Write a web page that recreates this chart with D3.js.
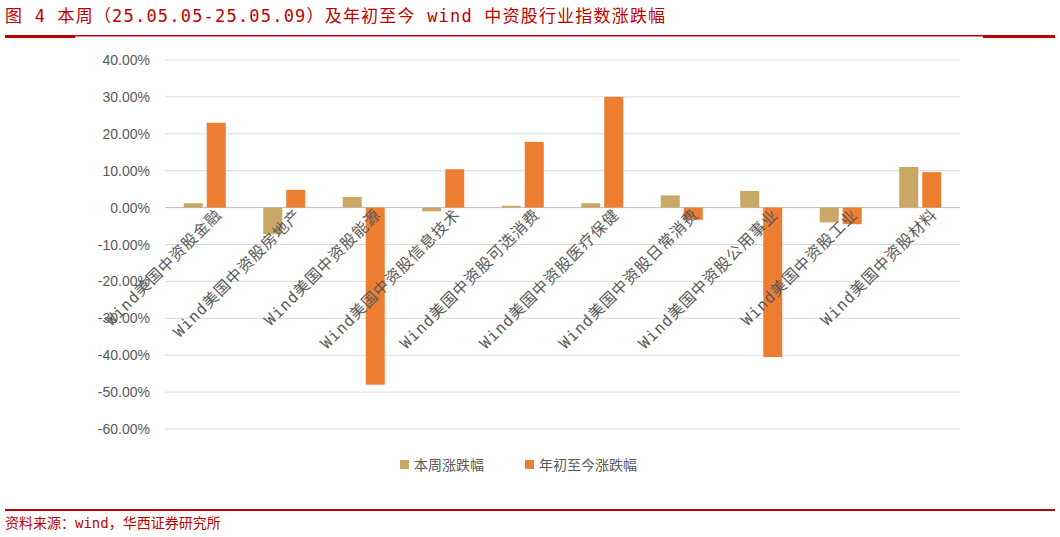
<!DOCTYPE html><html><head><meta charset="utf-8">
<script src="https://cdn.jsdelivr.net/npm/d3@7"></script>
<style>body{margin:0;background:#fff;font-family:"Noto Sans CJK SC",sans-serif}</style></head><body>
<svg id="c" width="1060" height="537"></svg>
<script>
const categories=["Wind美国中资股金融","Wind美国中资股房地产","Wind美国中资股能源","Wind美国中资股信息技术","Wind美国中资股可选消费","Wind美国中资股医疗保健","Wind美国中资股日常消费","Wind美国中资股公用事业","Wind美国中资股工业","Wind美国中资股材料"];
const weekValues=[1.2,-7.2,2.9,-1.0,0.5,1.2,3.3,4.5,-4.0,11.0];
const ytdValues=[23.0,4.8,-48.0,10.4,17.8,30.0,-3.3,-40.5,-4.5,9.6];
const yTicks=[40,30,20,10,0,-10,-20,-30,-40,-50,-60];
const seriesNames=["本周涨跌幅","年初至今涨跌幅"];
const colors=["#C9A765","#ED7D31"];
const svg=d3.select("#c");
const red="#C00000";
const mono='"DejaVu Sans Mono","Noto Sans CJK SC",monospace';
svg.append("text").attr("x",5).attr("y",22).attr("fill",red).attr("font-size",17).attr("font-family",mono).attr("letter-spacing",1.2).text("图 4  本周（25.05.05-25.05.09）及年初至今 wind 中资股行业指数涨跌幅");
svg.append("rect").attr("x",5).attr("y",35).attr("width",1050).attr("height",1.5).attr("fill",red);
svg.append("rect").attr("x",5).attr("y",35).attr("width",70).attr("height",3).attr("fill",red);
svg.append("rect").attr("x",983).attr("y",35).attr("width",72).attr("height",3).attr("fill",red);
svg.append("rect").attr("x",5).attr("y",509).attr("width",1050).attr("height",2).attr("fill",red);
svg.append("text").attr("x",5).attr("y",528).attr("fill",red).attr("font-size",14).attr("font-family",mono).text("资料来源：wind，华西证券研究所");
const y=d3.scaleLinear().domain([-60,40]).range([429,60]);
const x=d3.scaleBand().domain(categories).range([165,960]);
const g=svg.append("g");
yTicks.forEach(t=>{g.append("line").attr("x1",165).attr("x2",960).attr("y1",y(t)).attr("y2",y(t)).attr("stroke",t===0?"#bfbfbf":"#d9d9d9");
g.append("text").attr("x",150).attr("y",y(t)+5).attr("text-anchor","end").attr("font-size",14).attr("fill","#595959").attr("font-family","Liberation Sans,Arial").text(t.toFixed(2)+"%");});
const bw=19;
[weekValues,ytdValues].forEach((vals,si)=>{
 g.selectAll(null).data(vals).enter().append("rect")
  .attr("x",(d,i)=>x(categories[i])+x.bandwidth()/2+(si===0?-bw-2:2))
  .attr("width",bw).attr("y",d=>y(Math.max(0,d))).attr("height",d=>Math.abs(y(d)-y(0))).attr("fill",colors[si]);
});
categories.forEach(c=>{const cx=x(c)+x.bandwidth()/2+18;
 g.append("text").attr("transform",`translate(${cx},${y(0)+8}) rotate(-45)`).attr("text-anchor","end").attr("font-size",15.5).attr("font-family",mono).attr("letter-spacing",1).attr("fill","#595959").text(c);});
const lx=[400,525];
seriesNames.forEach((n,i)=>{svg.append("rect").attr("x",lx[i]).attr("y",460).attr("width",9).attr("height",9).attr("fill",colors[i]);
svg.append("text").attr("x",lx[i]+14).attr("y",470).attr("font-size",14).attr("fill","#595959").text(n);});
</script></body></html>
